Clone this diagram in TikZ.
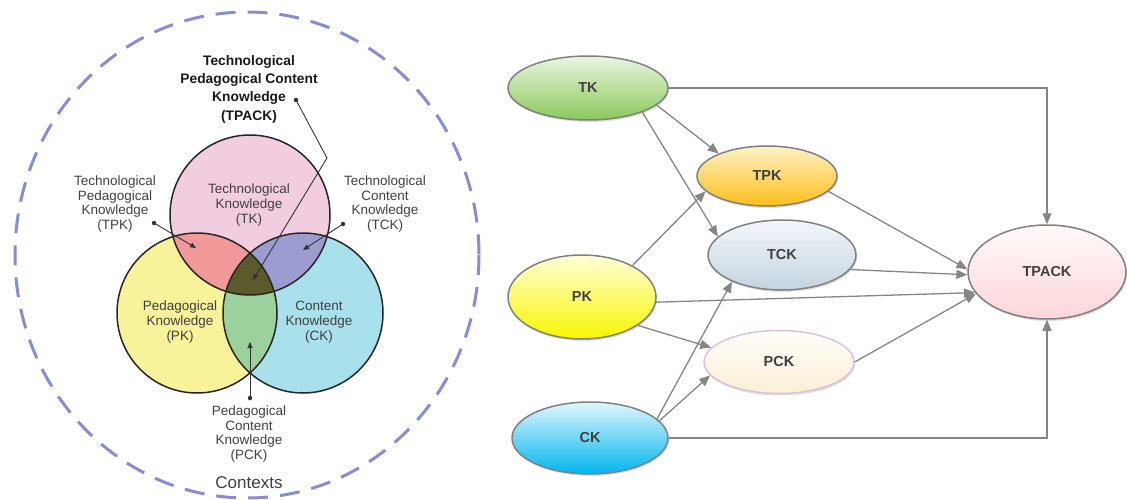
\documentclass[tikz,border=0pt]{standalone}
\usepackage{fontspec}
\setmainfont{Liberation Sans}
\usetikzlibrary{arrows.meta,shapes.geometric,shadows}
\definecolor{tkpink}{HTML}{F2CDE0}
\definecolor{pkyellow}{HTML}{F8F29A}
\definecolor{ckblue}{HTML}{A8E0EC}
\definecolor{tpkred}{HTML}{F29A9A}
\definecolor{tckviolet}{HTML}{9C9CD0}
\definecolor{pckgreen}{HTML}{9CD09C}
\definecolor{tpackolive}{HTML}{5C5A2A}
\definecolor{contextline}{HTML}{8A8CD2}
\definecolor{tktop}{HTML}{E9F5E0}
\definecolor{tkbot}{HTML}{8BC95B}
\definecolor{tpktop}{HTML}{FFF2C6}
\definecolor{tpkbot}{HTML}{FFBE1A}
\definecolor{tcktop}{HTML}{F3F6F9}
\definecolor{tckbot}{HTML}{C5D4E0}
\definecolor{pktop}{HTML}{FFFFD8}
\definecolor{pkbot}{HTML}{F8F600}
\definecolor{pcktop}{HTML}{FFFEFA}
\definecolor{pckbot}{HTML}{FCEFD6}
\definecolor{cktop}{HTML}{E2F6FE}
\definecolor{ckbot}{HTML}{00B6EE}
\definecolor{tpacktop}{HTML}{FFFAFA}
\definecolor{tpackbot}{HTML}{FCD5DA}
\tikzset{
  venn/.style={draw=black!85,line width=1.5pt},
  lbl/.style={align=center,text=black!75,font=\fontsize{13.5}{14.8}\selectfont},
  dot/.style={circle,fill=black!80,inner sep=0pt,minimum size=4.5pt},
  leader/.style={draw=black!80,line width=0.9pt,-{Triangle[length=6pt,width=5pt]}},
  know/.style={ellipse,draw=black!50,line width=1.5pt,inner sep=0pt,text=black!75,
    font=\fontsize{14.5}{16}\selectfont\bfseries,
    drop shadow={shadow xshift=1pt,shadow yshift=-2pt,opacity=0.25}},
  link/.style={draw=black!48,line width=1.3pt,-{Triangle[length=11pt,width=9pt]}}
}

\begin{document}
\begin{tikzpicture}[x=1pt,y=-1pt]
\useasboundingbox (0,0) rectangle (1127,500);
\draw[contextline,line width=3pt,dash pattern=on 20pt off 12pt] (247,255) ellipse [x radius=232,y radius=243];
\coordinate (vtk) at (250,215);
\coordinate (vpk) at (197,313);
\coordinate (vck) at (303,313);
\fill[tkpink] (vtk) circle (80);
\fill[pkyellow] (vpk) circle (80);
\fill[ckblue] (vck) circle (80);
\begin{scope}
\clip (vtk) circle (80);
\fill[tpkred] (vpk) circle (80);
\fill[tckviolet] (vck) circle (80);
\end{scope}
\begin{scope}
\clip (vpk) circle (80);
\fill[pckgreen] (vck) circle (80);
\end{scope}
\begin{scope}
\clip (vtk) circle (80);
\clip (vpk) circle (80);
\fill[tpackolive] (vck) circle (80);
\end{scope}
\draw[venn] (vtk) circle (80);
\draw[venn] (vpk) circle (80);
\draw[venn] (vck) circle (80);

\node[lbl] (tkin) at (249,205) {Technological\\Knowledge\\(TK)};
\node[lbl] (pkin) at (180,322) {Pedagogical\\Knowledge\\(PK)};
\node[lbl] (ckin) at (319,322) {Content\\Knowledge\\(CK)};
\node[lbl,text=black!90,font=\fontsize{13.8}{18.3}\selectfont\bfseries] (tpacklbl) at (249,89) {Technological\\Pedagogical Content\\Knowledge\\(TPACK)};
\node[lbl] (tpklbl) at (115,204) {Technological\\Pedagogical\\Knowledge\\(TPK)};
\node[lbl] (tcklbl) at (385,204) {Technological\\Content\\Knowledge\\(TCK)};
\node[lbl] (pcklbl) at (249,434) {Pedagogical\\Content\\Knowledge\\(PCK)};
\node[lbl,font=\fontsize{17}{19}\selectfont] (ctx) at (249,483) {Contexts};

\node[dot] (dtpack) at (296,100) {};
\node[dot] (dtpk) at (154,223) {};
\node[dot] (dtck) at (343,224) {};
\node[dot] (dpck) at (250,398) {};
\coordinate (bend) at (327,158);
\coordinate (etpack) at (253,280);
\coordinate (etpk) at (196,248);
\coordinate (etck) at (303,250);
\coordinate (epck) at (250,342);
\draw[leader] (dtpack.center) -- (bend) -- (etpack);
\draw[leader] (dtpk.center) -- (etpk);
\draw[leader] (dtck.center) -- (etck);
\draw[leader] (dpck.center) -- (epck);

\node[know,minimum width=160pt,minimum height=64pt,top color=tktop,bottom color=tkbot] (tk) at (588,88) {TK};
\node[know,minimum width=140pt,minimum height=60pt,top color=tpktop,bottom color=tpkbot] (tpk) at (767,176) {TPK};
\node[know,minimum width=148pt,minimum height=70pt,top color=tcktop,bottom color=tckbot] (tck) at (782,255) {TCK};
\node[know,minimum width=148pt,minimum height=84pt,top color=pktop,bottom color=pkbot] (pk) at (582,297) {PK};
\node[know,draw=violet!25,minimum width=150pt,minimum height=63pt,top color=pcktop,bottom color=pckbot] (pck) at (779,362) {PCK};
\node[know,minimum width=156pt,minimum height=72pt,top color=cktop,bottom color=ckbot] (ck) at (590,438) {CK};
\node[know,minimum width=158pt,minimum height=94pt,top color=tpacktop,bottom color=tpackbot] (tpack) at (1047,272) {TPACK};

\draw[link] (tk.east) -| (tpack.north);
\draw[link] (ck.east) -| (tpack.south);
\draw[link] (tk.-14) -- (tpk.155);
\draw[link] (tk.-24) -- (tck.164);
\draw[link] (pk.32) -- (tpk.194);
\draw[link] (pk.-4) -- (tpack.196);
\draw[link] (pk.-27) -- (pck.168);
\draw[link] (ck.16) -- (tck.208);
\draw[link] (ck.14) -- (pck.191);
\draw[link] (tpk.-14) -- (tpack.178);
\draw[link] (tck.-12) -- (tpack.182);
\draw[link] (pck.east) -- (tpack.197);
\end{tikzpicture}
\end{document}
